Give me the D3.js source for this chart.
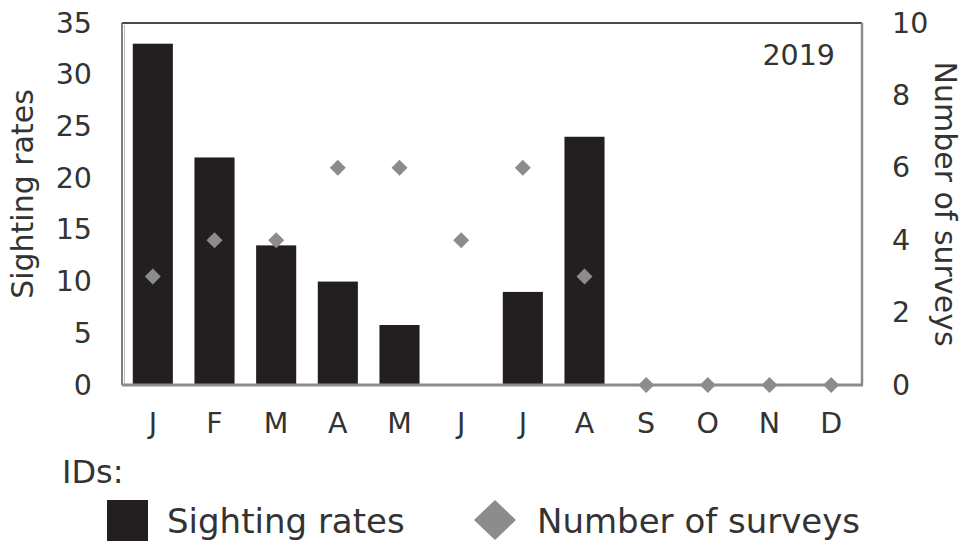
<!DOCTYPE html>
<html>
<head>
<meta charset="utf-8">
<script src="https://cdn.jsdelivr.net/npm/d3@7"></script>
<style>
  body { margin: 0; background: #fff; }
  svg { display: block; font-family: "DejaVu Sans", Verdana, sans-serif; }
</style>
</head>
<body>
<svg id="chart" width="969" height="543"></svg>
<script>
// values
const months = ["J", "F", "M", "A", "M", "J", "J", "A", "S", "O", "N", "D"];
const sightingRates = [33, 22, 13.5, 10, 5.8, 0, 9, 24, null, null, null, null];
const surveys = [3, 4, 4, 6, 6, 4, 6, 3, 0, 0, 0, 0];
const leftTicks = [0, 5, 10, 15, 20, 25, 30, 35];
const rightTicks = [0, 2, 4, 6, 8, 10];

const svg = d3.select("#chart");
const pLeft = 122, pRight = 862, pTop = 23, pBottom = 385;
const barColor = "#231f20", diamondColor = "#8c8c8e", textColor = "#333";

const idx = months.map((m, i) => i);
const x = d3.scaleBand()
  .domain(idx)
  .range([pLeft, pRight])
  .paddingInner(0.35)
  .paddingOuter(0.175);

const yL = d3.scaleLinear().domain([0, 35]).range([pBottom, pTop]);
const yR = d3.scaleLinear().domain([0, 10]).range([pBottom, pTop]);

// frame
svg.append("line").attr("x1", pLeft).attr("x2", pRight).attr("y1", pTop).attr("y2", pTop)
  .attr("stroke", "#4a4a4a").attr("stroke-width", 2);
svg.append("line").attr("x1", pLeft).attr("x2", pLeft).attr("y1", pTop).attr("y2", pBottom)
  .attr("stroke", "#555").attr("stroke-width", 1.5);
svg.append("line").attr("x1", pLeft + 2.5).attr("x2", pLeft + 2.5).attr("y1", pTop + 2).attr("y2", pBottom)
  .attr("stroke", "#bbb").attr("stroke-width", 1);
svg.append("line").attr("x1", pRight).attr("x2", pRight).attr("y1", pTop).attr("y2", pBottom)
  .attr("stroke", "#8c8c8c").attr("stroke-width", 2.5);

// bars
svg.append("g").selectAll("rect")
  .data(idx.filter(i => sightingRates[i] != null && sightingRates[i] > 0))
  .join("rect")
  .attr("x", i => x(i))
  .attr("y", i => yL(sightingRates[i]))
  .attr("width", x.bandwidth())
  .attr("height", i => yL(0) - yL(sightingRates[i]))
  .attr("fill", barColor);

// axes
const axL = svg.append("g").attr("transform", `translate(${pLeft},0)`)
  .call(d3.axisLeft(yL).tickValues(leftTicks).tickSize(0).tickPadding(30));
const axR = svg.append("g").attr("transform", `translate(${pRight},0)`)
  .call(d3.axisRight(yR).tickValues(rightTicks).tickSize(0).tickPadding(30));
const axB = svg.append("g").attr("transform", `translate(0,${pBottom})`)
  .call(d3.axisBottom(x).tickFormat(i => months[i]).tickSize(0).tickPadding(28));

[axL, axR, axB].forEach(g => {
  g.select(".domain").remove();
  g.selectAll("text").attr("font-size", 28.5).attr("fill", textColor)
    .attr("font-family", "DejaVu Sans, Verdana, sans-serif");
});

svg.append("line").attr("x1", pLeft).attr("x2", pRight + 1).attr("y1", pBottom).attr("y2", pBottom)
  .attr("stroke", "#8c8c8c").attr("stroke-width", 3);

// diamonds
const diamond = "M0,-8L8,0L0,8L-8,0Z";
svg.append("g").selectAll("path")
  .data(idx)
  .join("path")
  .attr("d", diamond)
  .attr("transform", i => `translate(${x(i) + x.bandwidth() / 2},${yR(surveys[i])})`)
  .attr("fill", diamondColor);

// year label
svg.append("text").attr("x", 835).attr("y", 65).attr("text-anchor", "end")
  .attr("font-size", 28.5).attr("fill", textColor).text("2019");

// axis titles
svg.append("text").attr("transform", "translate(33,194) rotate(-90)")
  .attr("text-anchor", "middle").attr("font-size", 30).attr("fill", textColor)
  .text("Sighting rates");
svg.append("text").attr("transform", "translate(935,204) rotate(90)")
  .attr("text-anchor", "middle").attr("font-size", 30).attr("fill", textColor)
  .text("Number of surveys");

// legend
svg.append("text").attr("x", 62).attr("y", 483).attr("font-size", 32).attr("fill", textColor)
  .text("IDs:");
svg.append("rect").attr("x", 107).attr("y", 500).attr("width", 41).attr("height", 41)
  .attr("fill", barColor);
svg.append("text").attr("x", 167).attr("y", 533).attr("font-size", 34).attr("fill", textColor)
  .text("Sighting rates");
svg.append("path").attr("d", "M0,-20L21,0L0,20L-21,0Z")
  .attr("transform", "translate(495,520)").attr("fill", diamondColor);
svg.append("text").attr("x", 537).attr("y", 533).attr("font-size", 34).attr("fill", textColor)
  .text("Number of surveys");
</script>
</body>
</html>
